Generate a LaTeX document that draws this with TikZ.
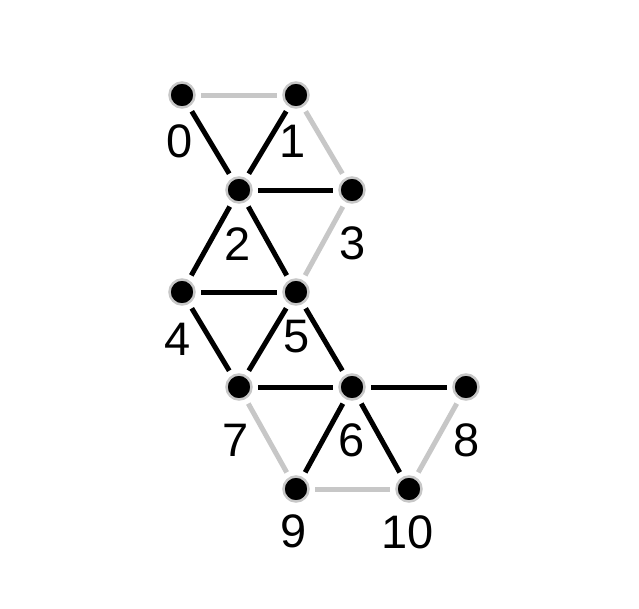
\documentclass[tikz,border=0pt]{standalone}
\usepackage{fontspec}
\setmainfont{Liberation Sans}
\begin{document}
\begin{tikzpicture}[x=1pt,y=-1pt,
  vtx/.style={circle,fill=black,draw=black!22,line width=2.5pt,minimum size=25pt,inner sep=0pt},
  lbl/.style={font=\fontsize{47}{47}\selectfont,inner sep=0pt},
  be/.style={line width=5pt,black,shorten >=19pt,shorten <=19pt},
  ge/.style={line width=5pt,black!22,shorten >=19pt,shorten <=19pt}]
\useasboundingbox (0,0) rectangle (639,608);
\node[vtx] (n0) at (182,95) {};
\node[vtx] (n1) at (296,95) {};
\node[vtx] (n2) at (239,190) {};
\node[vtx] (n3) at (352,190) {};
\node[vtx] (n4) at (182,292) {};
\node[vtx] (n5) at (296,292) {};
\node[vtx] (n7) at (239,387) {};
\node[vtx] (n6) at (352,387) {};
\node[vtx] (n8) at (466,387) {};
\node[vtx] (n9) at (296,489) {};
\node[vtx] (n10) at (409,489) {};
\draw[ge] (n0.center) -- (n1.center);
\draw[be] (n0.center) -- (n2.center);
\draw[be] (n1.center) -- (n2.center);
\draw[ge] (n1.center) -- (n3.center);
\draw[be] (n2.center) -- (n3.center);
\draw[be] (n2.center) -- (n4.center);
\draw[be] (n2.center) -- (n5.center);
\draw[ge] (n3.center) -- (n5.center);
\draw[be] (n4.center) -- (n5.center);
\draw[be] (n4.center) -- (n7.center);
\draw[be] (n5.center) -- (n7.center);
\draw[be] (n5.center) -- (n6.center);
\draw[be] (n7.center) -- (n6.center);
\draw[be] (n6.center) -- (n8.center);
\draw[ge] (n7.center) -- (n9.center);
\draw[be] (n9.center) -- (n6.center);
\draw[be] (n6.center) -- (n10.center);
\draw[ge] (n9.center) -- (n10.center);
\draw[ge] (n8.center) -- (n10.center);
\node[lbl] (l0) at (180,141) {0};
\node[lbl] (l1) at (293,141) {1};
\node[lbl] (l2) at (238,244) {2};
\node[lbl] (l3) at (353,243) {3};
\node[lbl] (l4) at (178,339) {4};
\node[lbl] (l5) at (297,337) {5};
\node[lbl] (l7) at (236,440) {7};
\node[lbl] (l6) at (352,440) {6};
\node[lbl] (l8) at (467,440) {8};
\node[lbl] (l9) at (294,531) {9};
\node[lbl] (l10) at (408,532) {10};
\end{tikzpicture}
\end{document}
